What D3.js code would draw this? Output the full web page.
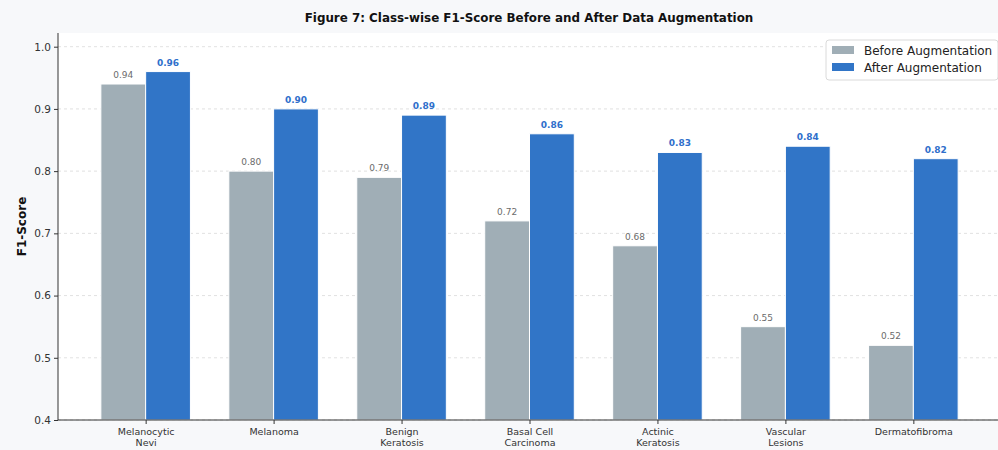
<!DOCTYPE html>
<html>
<head>
<meta charset="utf-8">
<script src="https://cdn.jsdelivr.net/npm/d3@7"></script>
<style>
  html, body { margin: 0; padding: 0; background: #f7f8fa; }
  svg { display: block; font-family: "DejaVu Sans", sans-serif; }
</style>
</head>
<body>
<svg id="chart" width="998" height="450"></svg>
<script>
// Class names (each entry split into the lines shown under the ticks)
const categories = [
  ["Melanocytic", "Nevi"],
  ["Melanoma"],
  ["Benign", "Keratosis"],
  ["Basal Cell", "Carcinoma"],
  ["Actinic", "Keratosis"],
  ["Vascular", "Lesions"],
  ["Dermatofibroma"]
];
const beforeScores = [0.94, 0.80, 0.79, 0.72, 0.68, 0.55, 0.52];
const afterScores  = [0.96, 0.90, 0.89, 0.86, 0.83, 0.84, 0.82];
const yTicks = [0.4, 0.5, 0.6, 0.7, 0.8, 0.9, 1.0];
const seriesNames = ["Before Augmentation", "After Augmentation"];

const W = 998, H = 450;
const margin = { left: 58, right: -3, top: 33, bottom: 30 };
const plotW = W - margin.left - margin.right;
const plotH = H - margin.top - margin.bottom;
const barW = 0.35;

const svg = d3.select("#chart");

// white axes area
svg.append("rect")
  .attr("x", margin.left).attr("y", margin.top)
  .attr("width", plotW).attr("height", plotH)
  .attr("fill", "#ffffff");

const g = svg.append("g").attr("transform", `translate(${margin.left},${margin.top})`);

const x = d3.scaleLinear().domain([-0.685, categories.length - 1 + 0.685]).range([0, plotW]);
const y = d3.scaleLinear().domain([0.4, 1.022]).range([plotH, 0]);

// horizontal dashed grid
g.append("g").selectAll("line").data(yTicks).join("line")
  .attr("x1", 0).attr("x2", plotW)
  .attr("y1", d => y(d)).attr("y2", d => y(d))
  .attr("stroke", "#d9d9d9").attr("stroke-width", 0.8)
  .attr("stroke-dasharray", "3,3");

const colors = ["#a0aeb6", "#3175c7"];
const seriesData = [beforeScores, afterScores];

seriesData.forEach((vals, s) => {
  const off = s === 0 ? -barW : 0;
  g.append("g").selectAll("rect").data(vals).join("rect")
    .attr("x", (d, i) => x(i + off))
    .attr("y", d => y(d))
    .attr("width", x(barW) - x(0))
    .attr("height", d => y(0.4) - y(d))
    .attr("fill", colors[s])
    .attr("stroke", "#ffffff").attr("stroke-width", 1);

  g.append("g").selectAll("text").data(vals).join("text")
    .attr("x", (d, i) => x(i + off + barW / 2))
    .attr("y", d => y(d) - 6)
    .attr("text-anchor", "middle")
    .attr("font-size", 9)
    .attr("font-weight", s === 0 ? "normal" : "bold")
    .attr("fill", s === 0 ? "#6b6b6b" : "#2f6fcb")
    .text(d => d.toFixed(2));
});

// y axis
const yAxis = g.append("g").call(
  d3.axisLeft(y).tickValues(yTicks).tickFormat(d3.format(".1f")).tickSize(4).tickPadding(3)
);
yAxis.select(".domain").attr("stroke", "#333").attr("stroke-width", 1)
  .attr("d", `M0,${plotH}V0`);
yAxis.selectAll(".tick line").attr("stroke", "#333");
yAxis.selectAll(".tick text").attr("font-size", 10.5).attr("fill", "#333")
  .attr("font-family", "DejaVu Sans, sans-serif");

// x axis
const xAxis = g.append("g").attr("transform", `translate(0,${plotH})`).call(
  d3.axisBottom(x).tickValues(d3.range(categories.length)).tickFormat("").tickSize(4)
);
xAxis.select(".domain").attr("stroke", "#333").attr("stroke-width", 1)
  .attr("d", `M0,0H${plotW}`);
xAxis.selectAll(".tick line").attr("stroke", "#333");
xAxis.selectAll(".tick").each(function(d) {
  const t = d3.select(this).append("text")
    .attr("text-anchor", "middle").attr("fill", "#333")
    .attr("font-size", 9.5)
    .attr("font-family", "DejaVu Sans, sans-serif");
  categories[d].forEach((line, k) => {
    t.append("tspan").attr("x", 0).attr("y", 15 + k * 11).text(line);
  });
});

// y-axis title
svg.append("text")
  .attr("transform", `translate(26,${margin.top + plotH / 2}) rotate(-90)`)
  .attr("text-anchor", "middle")
  .attr("font-size", 12).attr("font-weight", "bold").attr("fill", "#111")
  .text("F1-Score");

// chart title
svg.append("text")
  .attr("x", 529).attr("y", 22)
  .attr("text-anchor", "middle")
  .attr("font-size", 11.9).attr("font-weight", "bold").attr("fill", "#111")
  .text("Figure 7: Class-wise F1-Score Before and After Data Augmentation");

// legend
const lg = svg.append("g").attr("transform", "translate(826,40)");
lg.append("rect").attr("width", 172).attr("height", 40).attr("rx", 3)
  .attr("fill", "#ffffff").attr("stroke", "#d0d0d0").attr("stroke-width", 0.8);
seriesNames.forEach((name, i) => {
  lg.append("rect").attr("x", 6).attr("y", 6 + i * 17).attr("width", 22).attr("height", 8)
    .attr("fill", colors[i]);
  lg.append("text").attr("x", 38).attr("y", 14.5 + i * 17)
    .attr("font-size", 12).attr("fill", "#222").text(name);
});
</script>
</body>
</html>
